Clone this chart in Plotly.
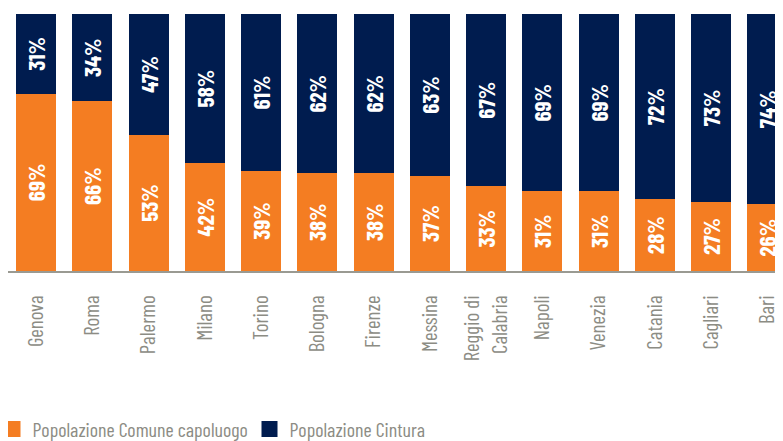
import plotly.graph_objects as go

ORANGE = "#F47D22"
NAVY = "#001C4F"
GREY = "#8C8C84"
FONT = "Barlow Condensed, Roboto Condensed, DejaVu Sans Condensed, sans-serif"

cities = ["Genova", "Roma", "Palermo", "Milano", "Torino", "Bologna", "Firenze",
          "Messina", "Reggio di<br>Calabria", "Napoli", "Venezia", "Catania",
          "Cagliari", "Bari"]
comune = [69, 66, 53, 42, 39, 38, 38, 37, 33, 31, 31, 28, 27, 26]
cintura = [31, 34, 47, 58, 61, 62, 62, 63, 67, 69, 69, 72, 73, 74]
series = [("Popolazione Comune capoluogo", comune, ORANGE),
          ("Popolazione Cintura", cintura, NAVY)]

fig = go.Figure()
for name, vals, color in series:
    fig.add_trace(go.Bar(
        x=cities,
        y=vals,
        name=name,
        showlegend=False,
        marker=dict(color=color, line=dict(width=0)),
        text=[f"{v}%" for v in vals],
        textposition="inside",
        insidetextanchor="middle",
        textangle=-90,
        constraintext="none",
        textfont=dict(color="white", size=23, family=FONT, weight="bold"),
        hovertemplate="<b>%{x}</b><br>%{y}%<extra></extra>",
    ))

# legend-only entries so the swatches are large squares
for name, vals, color in series:
    fig.add_trace(go.Scatter(
        x=[None], y=[None],
        mode="markers",
        name=name,
        marker=dict(symbol="square", size=16, color=color),
    ))

# page body has an 8px margin, so the figure is 8px smaller than the window
fig.update_layout(
    barmode="stack",
    bargap=0.29,
    width=775,
    height=433,
    margin=dict(l=0, r=0, t=6, b=170, autoexpand=False),
    paper_bgcolor="white",
    plot_bgcolor="white",
    legend=dict(
        orientation="h",
        x=-0.02, xanchor="left",
        y=-0.615, yanchor="middle",
        font=dict(color=GREY, size=20, family=FONT),
        itemsizing="trace",
        entrywidth=212,
        entrywidthmode="pixels",
        traceorder="normal",
    ),
    xaxis=dict(
        range=[-0.5, 13.278],
        tickangle=-90,
        tickfont=dict(color=GREY, size=21, family=FONT),
        showline=True,
        linecolor="#9A9A92",
        linewidth=2,
        showgrid=False,
        ticks="",
        ticklabelstandoff=14,
        automargin=False,
    ),
    yaxis=dict(range=[0, 100], visible=False, automargin=False),
)

fig.write_html("out.html")
